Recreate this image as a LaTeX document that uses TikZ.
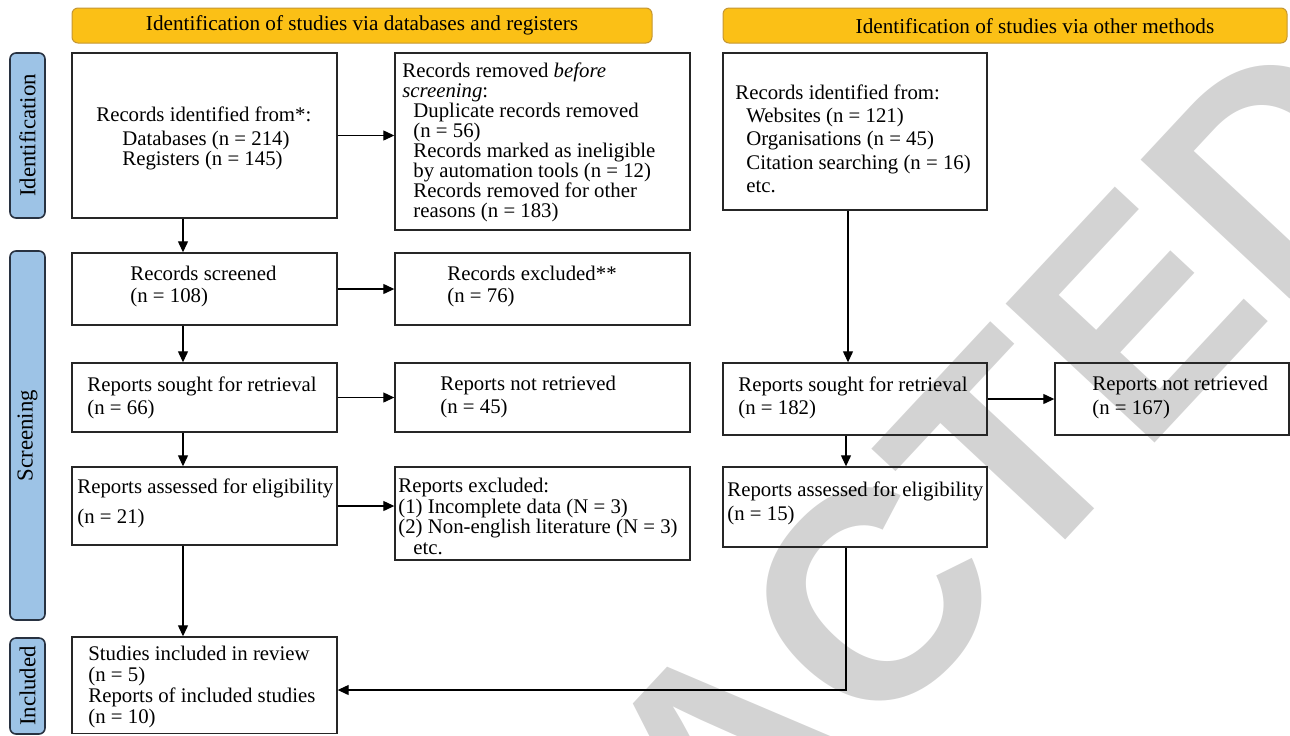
\documentclass[tikz,border=0pt]{standalone}
\usepackage{fontspec}
\setmainfont{Liberation Serif}
\newfontfamily\wmfont{Liberation Sans}
\usetikzlibrary{arrows.meta,fit}
\definecolor{hdrfill}{RGB}{251,192,22}
\definecolor{hdrline}{RGB}{196,150,50}
\definecolor{sidefill}{RGB}{157,195,230}
\definecolor{sideline}{RGB}{40,50,65}
\definecolor{wmgray}{RGB}{211,211,211}
\begin{document}
\begin{tikzpicture}[x=0.5pt,y=-0.5pt,
  box/.style={draw=black!85, line width=0.7pt, rectangle, inner sep=0pt},
  hdr/.style={draw=hdrline, fill=hdrfill, line width=0.5pt, rounded corners=3pt, inner sep=0pt},
  side/.style={draw=sideline, fill=sidefill, line width=0.8pt, rounded corners=3pt, inner sep=0pt},
  txt/.style={anchor=north west, inner sep=0pt, align=left, font=\fontsize{10.4}{10}\selectfont},
  hdrtxt/.style={inner sep=0pt, font=\fontsize{10.6}{10}\selectfont},
  sidetxt/.style={inner sep=0pt, rotate=90, font=\fontsize{11.4}{10}\selectfont},
  arr/.style={draw=black, line width=0.6pt, -{Triangle[length=5.5pt,width=5pt]}},
  wm/.style={inner sep=0pt, text=wmgray, font=\wmfont\bfseries\fontsize{148}{148}\selectfont}]
\useasboundingbox (0,0) rectangle (1290,735);
% watermark
\begin{scope}
\clip (0,0) rectangle (1290,735);
\node[wm, rotate=47] (wm) at (725,755) {RETRACTED};
\end{scope}
% headers
\node[hdr, fit={(72,8)(652,43)}] (h1) {};
\node[hdrtxt] (h1t) at (h1) {Identification of studies via databases and registers};
\node[hdr, fit={(723,8)(1287,43)}] (h2) {};
\node[hdrtxt] (h2t) at (1035,26) {Identification of studies via other methods};
% side bars
\node[side, fit={(10,53)(45,218)}] (s1) {};
\node[sidetxt] (s1t) at (s1) {Identification};
\node[side, fit={(10,251)(45,620)}] (s2) {};
\node[sidetxt] (s2t) at (s2) {Screening};
\node[side, fit={(10,638)(45,734)}] (s3) {};
\node[sidetxt] (s3t) at (s3) {Included};
% boxes
\node[box, fit={(72,53)(337,218)}] (a) {};
\node[box, fit={(395,53)(690,230)}] (b) {};
\node[box, fit={(723,53)(987,210)}] (c) {};
\node[box, fit={(72,253)(337,325)}] (d) {};
\node[box, fit={(395,253)(690,325)}] (e) {};
\node[box, fit={(72,363)(337,432)}] (f) {};
\node[box, fit={(395,363)(690,432)}] (g) {};
\node[box, fit={(72,467)(337,545)}] (h) {};
\node[box, fit={(395,467)(690,560)}] (i) {};
\node[box, fit={(72,637)(337,733.5)}] (j) {};
\node[box, fit={(723,363)(987,435)}] (k) {};
\node[box, fit={(1055,363)(1289,435)}] (l) {};
\node[box, fit={(723,467)(987,547)}] (m) {};
% texts
\node[txt] (ta) at (96,106) {Records identified from*:\\[2pt]\hspace*{13pt}Databases (n = 214)\\\hspace*{13pt}Registers (n = 145)};
\node[txt] (tb) at (402,62) {Records removed \textit{before}\\\textit{screening}:\\\hspace*{5.5pt}Duplicate records removed\\\hspace*{5.5pt}(n = 56)\\\hspace*{5.5pt}Records marked as ineligible\\\hspace*{5.5pt}by automation tools (n = 12)\\\hspace*{5.5pt}Records removed for other\\\hspace*{5.5pt}reasons (n = 183)};
\node[txt, font=\fontsize{10.4}{11.7}\selectfont] (tc) at (735,84) {Records identified from:\\\hspace*{5.5pt}Websites (n = 121)\\\hspace*{5.5pt}Organisations (n = 45)\\\hspace*{5.5pt}Citation searching (n = 16)\\\hspace*{5.5pt}etc.};
\node[txt] (td) at (130,266) {Records screened\\[1pt](n = 108)};
\node[txt] (te) at (447,266) {Records excluded**\\[1pt](n = 76)};
\node[txt] (tf) at (87,376) {Reports sought for retrieval\\[1.5pt](n = 66)};
\node[txt] (tg) at (440,376) {Reports not retrieved\\[1.5pt](n = 45)};
\node[txt] (th) at (77,478) {Reports assessed for eligibility\\[5pt](n = 21)};
\node[txt, font=\fontsize{10.4}{10.2}\selectfont] (ti) at (398,478) {Reports excluded:\\(1) Incomplete data (N = 3)\\(2) Non-english literature (N = 3)\\\hspace*{7.5pt}etc.};
\node[txt, font=\fontsize{10.4}{10.5}\selectfont] (tj) at (88,646) {Studies included in review\\(n = 5)\\Reports of included studies\\(n = 10)};
\node[txt] (tk) at (738,376) {Reports sought for retrieval\\[1.5pt](n = 182)};
\node[txt] (tl) at (1092,376) {Reports not retrieved\\[2pt](n = 167)};
\node[txt] (tm) at (727,481) {Reports assessed for eligibility\\[2pt](n = 15)};
% connectors
\coordinate (vl) at (183,0);
\coordinate (vr1) at (848,0);
\coordinate (vr2) at (846,0);
\draw[arr] (a.east) -- (a.east -| b.west);
\draw[arr] (d.east) -- (d.east -| e.west);
\draw[arr] (f.east) -- (f.east -| g.west);
\draw[arr] (h.east) -- (h.east -| i.west);
\draw[arr] (k.east) -- (k.east -| l.west);
\draw[arr] (a.south -| vl) -- (d.north -| vl);
\draw[arr] (d.south -| vl) -- (f.north -| vl);
\draw[arr] (f.south -| vl) -- (h.north -| vl);
\draw[arr] (h.south -| vl) -- (j.north -| vl);
\draw[arr] (c.south -| vr1) -- (k.north -| vr1);
\draw[arr] (k.south -| vr2) -- (m.north -| vr2);
\coordinate (jy) at (0,690);
\draw[arr] (m.south -| vr2) |- (j.east |- jy);
\end{tikzpicture}
\end{document}
